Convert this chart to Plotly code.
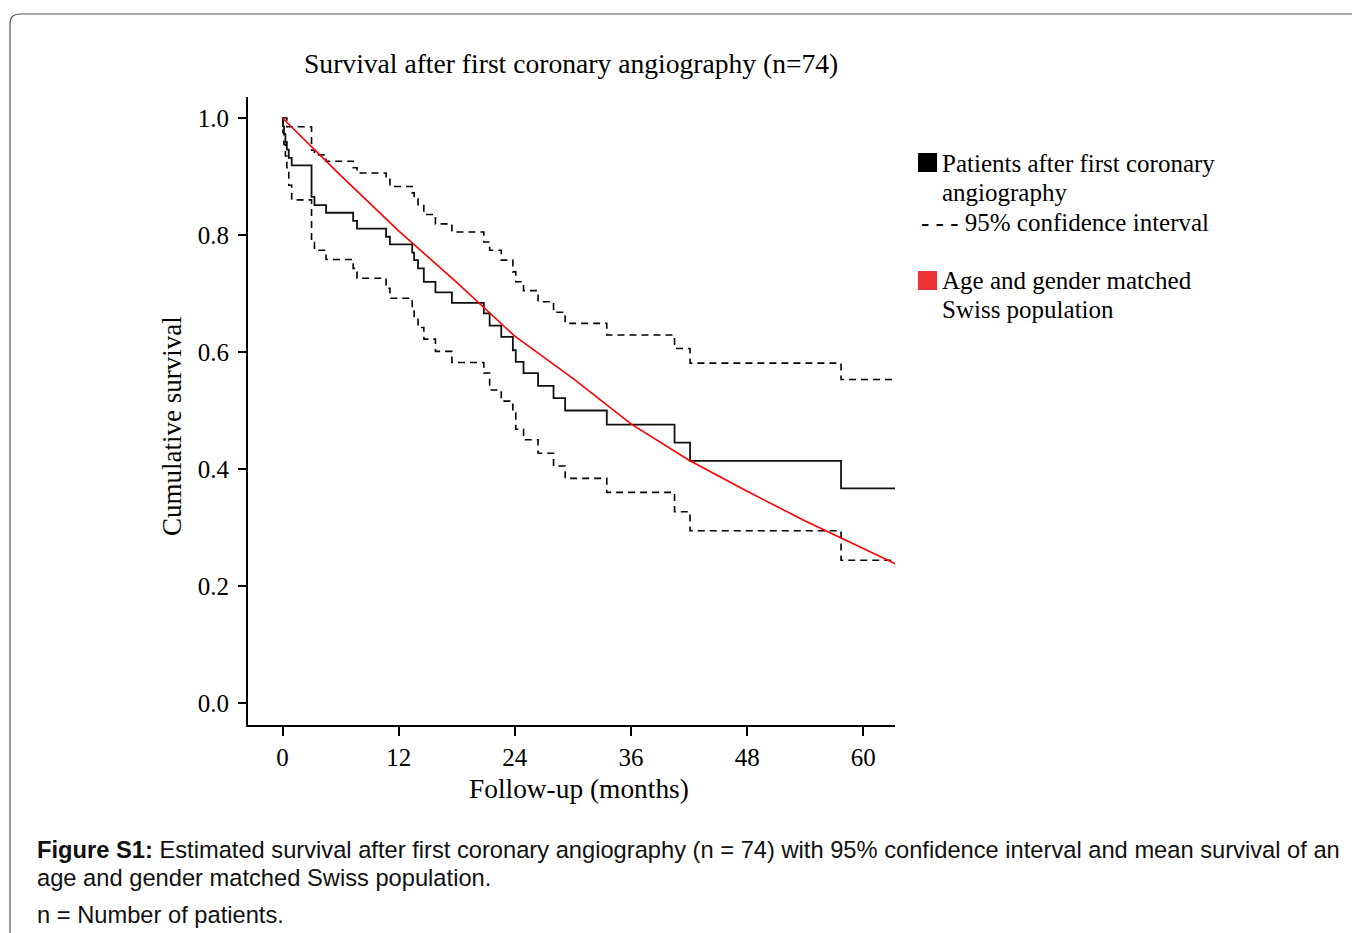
import plotly.graph_objects as go

# ---------------- data ----------------
km_time = [0, 0.05, 0.15, 0.3, 0.45, 0.65, 0.95, 3.0, 3.3, 4.5, 7.3, 7.7, 10.7, 11.1,
           13.4, 13.6, 14.0, 14.6, 15.8, 17.5, 20.8, 21.4, 22.6, 23.8, 24.1, 24.9,
           26.4, 28.0, 29.2, 33.5, 40.5, 42.1, 57.7, 63.3]
km_surv = [1.0, 0.986, 0.973, 0.959, 0.946, 0.932, 0.919, 0.865, 0.851, 0.838, 0.824,
           0.811, 0.797, 0.784, 0.770, 0.757, 0.743, 0.720, 0.702, 0.684, 0.666, 0.645,
           0.626, 0.603, 0.583, 0.564, 0.542, 0.521, 0.500, 0.476, 0.445, 0.414, 0.367,
           0.367]
ci_upper = [1.0, 1.0, 1.0, 1.0, 0.985, 0.985, 0.985, 0.945, 0.937, 0.926, 0.915,
            0.906, 0.895, 0.883, 0.872, 0.862, 0.852, 0.835, 0.819, 0.805, 0.788, 0.774,
            0.757, 0.737, 0.720, 0.705, 0.686, 0.668, 0.649, 0.629, 0.606, 0.581, 0.553,
            0.553]
ci_lower = [1.0, 0.975, 0.955, 0.935, 0.915, 0.885, 0.860, 0.787, 0.774, 0.758, 0.743,
            0.726, 0.709, 0.692, 0.672, 0.658, 0.642, 0.622, 0.601, 0.582, 0.564, 0.535,
            0.516, 0.496, 0.468, 0.450, 0.427, 0.405, 0.384, 0.360, 0.327, 0.2945, 0.244,
            0.244]
pop_time = [0, 6, 12, 18, 24, 30, 36, 42, 48, 54, 60, 63.3]
pop_surv = [1.0, 0.902, 0.807, 0.719, 0.627, 0.555, 0.477, 0.415, 0.362, 0.311, 0.264, 0.238]

x_ticks = [0, 12, 24, 36, 48, 60]
y_ticks = [0.0, 0.2, 0.4, 0.6, 0.8, 1.0]
y_ticklabels = ["0.0", "0.2", "0.4", "0.6", "0.8", "1.0"]

title_text = "Survival after first coronary angiography (n=74)"
x_title = "Follow-up (months)"
y_title = "Cumulative survival"
legend_lines = ["Patients after first coronary", "angiography",
                "- - - 95% confidence interval", "Age and gender matched",
                "Swiss population"]
caption_lines = ["<b>Figure S1:</b> Estimated survival after first coronary angiography (n = 74) "
                 "with 95% confidence interval and mean survival of an",
                 "age and gender matched Swiss population.",
                 "n = Number of patients."]

# ---------------- layout geometry ----------------
W, H = 1360, 933
OFF = 8                              # page body margin of the html page
L, R, T, B = 248, 895, 97, 725      # plot area in screen pixels


def px(x):
    return (x - L) / (R - L)


def py(y):
    return (B - y) / (B - T)


SERIF = "Liberation Serif, Times New Roman, serif"
SANS = "Liberation Sans, Arial, sans-serif"

fig = go.Figure()
fig.add_trace(go.Scatter(x=km_time, y=ci_upper, mode="lines", line_shape="hv",
                         line=dict(color="black", width=1.6, dash="7px,5px"),
                         showlegend=False, hoverinfo="skip"))
fig.add_trace(go.Scatter(x=km_time, y=ci_lower, mode="lines", line_shape="hv",
                         line=dict(color="black", width=1.6, dash="7px,5px"),
                         showlegend=False, hoverinfo="skip"))
fig.add_trace(go.Scatter(x=km_time, y=km_surv, mode="lines", line_shape="hv",
                         line=dict(color="#111111", width=1.8),
                         showlegend=False))
fig.add_trace(go.Scatter(x=pop_time, y=pop_surv, mode="lines",
                         line=dict(color="#ff0000", width=1.6),
                         showlegend=False))

fig.update_layout(
    width=W, height=H,
    margin=dict(l=L - OFF, r=W - (R - OFF), t=T - OFF, b=H - (B - OFF), pad=0),
    paper_bgcolor="white", plot_bgcolor="white",
    showlegend=False,
    font=dict(family=SERIF, color="black"),
)
fig.update_xaxes(range=[(L - 282.5) / 9.68, (R - 282.5) / 9.68],
                 tickvals=x_ticks, ticktext=[str(v) for v in x_ticks],
                 showgrid=False, zeroline=False, showline=True, linecolor="black",
                 linewidth=2, ticks="outside", ticklen=9, tickwidth=1.5,
                 tickcolor="black", tickfont=dict(family=SERIF, size=25),
                 ticklabelstandoff=0)
fig.update_yaxes(range=[(703 - B) / 585, (703 - T) / 585],
                 tickvals=y_ticks, ticktext=y_ticklabels,
                 showgrid=False, zeroline=False, showline=True, linecolor="black",
                 linewidth=2, ticks="outside", ticklen=8, tickwidth=1.5,
                 tickcolor="black", tickfont=dict(family=SERIF, size=25),
                 ticklabelstandoff=4)

ann = []
ann.append(dict(text=title_text, x=px(571), y=py(64), xref="paper", yref="paper",
                showarrow=False, xanchor="center", yanchor="middle",
                font=dict(family=SERIF, size=27.6)))
ann.append(dict(text=x_title, x=px(579), y=py(789), xref="paper", yref="paper",
                showarrow=False, xanchor="center", yanchor="middle",
                font=dict(family=SERIF, size=27.4)))
ann.append(dict(text=y_title, x=px(172), y=py(426), xref="paper", yref="paper",
                showarrow=False, xanchor="center", yanchor="middle", textangle=-90,
                font=dict(family=SERIF, size=27)))
leg_pos = [(940, 163), (940, 193), (919, 223), (940, 280), (940, 309)]
for txt, (lx, ly) in zip(legend_lines, leg_pos):
    ann.append(dict(text=txt, x=px(lx), y=py(ly), xref="paper", yref="paper",
                    showarrow=False, xanchor="left", yanchor="middle",
                    font=dict(family=SERIF, size=25)))
cap_pos = [850, 878, 915]
for txt, cy in zip(caption_lines, cap_pos):
    ann.append(dict(text=txt, x=px(35), y=py(cy), xref="paper", yref="paper",
                    showarrow=False, xanchor="left", yanchor="middle",
                    font=dict(family=SANS, size=23.7, color="#111111")))
fig.update_layout(annotations=ann)

shapes = []
# legend colour squares
shapes.append(dict(type="rect", xref="paper", yref="paper",
                   x0=px(918), x1=px(937), y0=py(172), y1=py(153),
                   fillcolor="black", line=dict(width=0)))
shapes.append(dict(type="rect", xref="paper", yref="paper",
                   x0=px(918), x1=px(937), y0=py(290), y1=py(271),
                   fillcolor="#ee3338", line=dict(width=0)))
# rounded frame around the figure
r = 10
path = (f"M {px(10)},{py(960)} L {px(10)},{py(14 + r)} "
        f"Q {px(10)},{py(14)} {px(10 + r)},{py(14)} "
        f"L {px(1400)},{py(14)}")
shapes.append(dict(type="path", xref="paper", yref="paper", path=path,
                   line=dict(color="#555555", width=1.2)))
fig.update_layout(shapes=shapes)

fig.write_html("out.html")
